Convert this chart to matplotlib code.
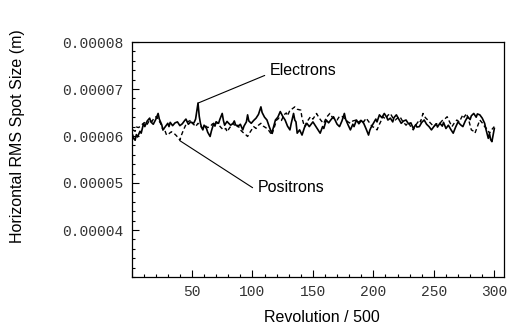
import numpy as np
import matplotlib
matplotlib.use("Agg")
import matplotlib.pyplot as plt

# values, spot size in micrometres
elec_x = [1, 2, 3, 4, 5, 7, 8, 10, 11, 13, 15, 16, 18, 20, 22, 23, 25, 26, 28, 30, 31, 32,
          34, 36, 38, 40, 42, 44, 45, 47, 49, 51, 52, 53, 55, 56, 57, 58, 59, 60, 62, 63,
          65, 66, 68, 69, 70, 72, 73, 75, 76, 77, 79, 80, 82, 84, 85, 86, 88, 90, 92, 93,
          95, 96, 97, 99, 101, 103, 105, 107, 108, 110, 112, 114, 116, 117, 119, 121, 123,
          125, 127, 129, 131, 132, 134, 135, 136, 137, 139, 141, 143, 145, 147, 150, 152,
          154, 156, 158, 159, 161, 163, 165, 167, 169, 170, 172, 174, 176, 177, 179, 181,
          183, 184, 186, 188, 190, 192, 194, 196, 197, 198, 200, 202, 203, 205, 207, 209,
          211, 212, 214, 216, 217, 219, 221, 223, 225, 227, 229, 231, 233, 235, 236, 238,
          240, 242, 244, 246, 248, 250, 252, 253, 255, 257, 258, 260, 262, 264, 266, 268,
          270, 272, 274, 276, 278, 280, 281, 283, 285, 286, 288, 290, 292, 293, 295, 296,
          297, 298, 299, 300]
elec_um = [60.2, 59.4, 59.1, 60.3, 59.8, 61.0, 60.6, 62.7, 62.0, 63.2, 63.8, 63.0, 62.5,
           63.5, 64.8, 63.6, 62.4, 61.3, 62.0, 62.7, 62.0, 62.9, 62.2, 62.8, 63.0, 62.2,
           62.6, 63.3, 63.6, 62.5, 63.0, 62.6, 63.0, 63.6, 67.0, 64.2, 62.7, 61.8, 61.3,
           62.3, 61.6, 60.8, 59.9, 61.0, 62.7, 62.1, 63.0, 62.7, 63.5, 64.8, 63.3, 62.3,
           63.1, 62.8, 62.3, 62.7, 63.2, 62.4, 62.0, 62.5, 61.3, 62.1, 63.0, 64.5, 63.2,
           62.7, 63.3, 63.8, 64.6, 66.2, 65.0, 64.0, 63.4, 61.9, 60.6, 61.5, 63.4, 64.0,
           65.2, 64.2, 63.4, 62.1, 61.3, 62.6, 64.8, 63.4, 63.0, 60.6, 61.3, 60.2, 61.8,
           62.7, 62.0, 63.0, 62.2, 61.4, 60.6, 62.0, 61.6, 63.4, 62.8, 63.5, 64.1, 63.0,
           62.5, 62.0, 63.2, 64.8, 63.6, 62.4, 61.3, 62.5, 62.0, 63.4, 62.6, 63.3, 62.7,
           61.5, 60.2, 61.2, 61.8, 62.7, 63.6, 63.0, 64.5, 63.9, 64.8, 64.0, 63.4, 63.8,
           63.0, 63.9, 64.5, 63.6, 62.7, 63.2, 63.4, 62.6, 62.8, 61.6, 62.4, 61.9, 62.0,
           62.9, 63.4, 62.5, 62.0, 61.3, 62.0, 62.6, 61.9, 62.7, 62.1, 62.9, 61.6, 62.3,
           61.4, 60.6, 61.9, 63.0, 62.4, 62.0, 63.2, 64.1, 63.5, 64.3, 64.8, 64.0, 64.7,
           64.5, 63.8, 62.7, 61.5, 59.5, 60.5, 59.2, 58.8, 60.2, 61.6]

posi_x = [1, 3, 4, 6, 8, 10, 12, 13, 15, 17, 19, 21, 22, 24, 26, 27, 29, 31, 33, 35, 37,
          39, 40, 41, 43, 45, 46, 48, 49, 51, 53, 55, 57, 59, 61, 63, 65, 67, 69, 70, 72,
          74, 76, 78, 79, 81, 84, 86, 88, 90, 92, 94, 96, 98, 101, 103, 105, 107, 109, 112,
          114, 116, 118, 120, 122, 124, 126, 128, 129, 131, 133, 135, 137, 140, 141, 143,
          145, 148, 150, 153, 155, 157, 159, 161, 164, 166, 168, 170, 172, 175, 177, 179,
          181, 183, 186, 188, 190, 192, 194, 196, 199, 201, 203, 205, 208, 210, 212, 214,
          216, 218, 220, 222, 224, 227, 229, 231, 233, 235, 238, 239, 241, 243, 245, 247,
          250, 252, 255, 257, 259, 261, 263, 265, 267, 269, 271, 274, 275, 277, 279, 281,
          283, 284, 286, 288, 290, 292, 294, 296, 298, 300]
posi_um = [61.3, 61.0, 61.9, 61.8, 62.3, 62.7, 63.0, 62.5, 63.4, 63.1, 64.0, 64.1, 63.5,
           62.7, 61.3, 61.6, 60.2, 60.5, 60.9, 60.6, 60.1, 59.5, 59.1, 60.0, 61.3, 62.4,
           63.0, 63.2, 63.4, 62.6, 62.0, 62.7, 62.1, 61.6, 62.2, 61.8, 62.0, 62.6, 62.3,
           63.0, 62.4, 61.8, 61.3, 61.6, 60.9, 61.7, 62.7, 62.0, 62.3, 61.3, 60.8, 60.4,
           59.9, 60.8, 62.0, 61.6, 62.3, 62.7, 62.1, 61.6, 61.0, 60.2, 61.8, 63.4, 63.8,
           63.3, 64.5, 64.9, 64.3, 65.5, 65.8, 66.2, 65.7, 65.5, 63.8, 62.0, 63.0, 64.1,
           63.6, 64.8, 63.9, 63.2, 62.7, 63.9, 64.8, 64.0, 63.6, 63.4, 64.2, 64.1, 63.5,
           63.0, 62.7, 63.2, 63.4, 62.9, 63.5, 63.0, 63.8, 63.1, 62.0, 61.8, 61.3, 62.5,
           64.1, 63.6, 64.4, 64.8, 63.9, 63.4, 63.8, 64.1, 63.2, 62.3, 62.9, 61.9, 61.3,
           62.3, 63.4, 63.0, 64.8, 63.9, 63.4, 62.8, 62.0, 62.6, 62.7, 63.3, 63.6, 64.1,
           63.0, 62.0, 62.8, 63.4, 63.0, 64.5, 64.0, 64.8, 63.2, 61.3, 61.0, 60.6, 62.0,
           63.4, 62.8, 62.0, 61.5, 60.6, 61.4, 62.0]

x_ticks = [0, 50, 100, 150, 200, 250, 300]
x_ticklabels = ["", "50", "100", "150", "200", "250", "300"]
y_ticks = [0.00004, 0.00005, 0.00006, 0.00007, 0.00008]
y_ticklabels = ["0.00004", "0.00005", "0.00006", "0.00007", "0.00008"]

elec = np.array(elec_um) * 1e-6
posi = np.array(posi_um) * 1e-6

fig = plt.figure(figsize=(5.09, 3.32), dpi=100)
ax = fig.add_axes([131.5 / 509, 1 - 277 / 332, (504 - 131.5) / 509, (277 - 42) / 332])

ax.plot(elec_x, elec, color="black", lw=1.2)
ax.plot(posi_x, posi, color="black", lw=1.0, dashes=(3, 2))

ax.set_xlim(0, 308)
ax.set_ylim(0.00003, 0.00008)

ax.set_xticks(x_ticks)
ax.set_xticklabels(x_ticklabels)
ax.set_xticks(np.arange(0, 310, 10), minor=True)
ax.set_yticks(y_ticks)
ax.set_yticklabels(y_ticklabels)
ax.set_yticks(np.arange(0.00003, 0.0000801, 0.000002), minor=True)

ax.tick_params(which="both", direction="in", top=False, right=False, width=0.8)
ax.tick_params(which="major", length=5, pad=6)
ax.tick_params(which="minor", length=2.5)
for lab in ax.get_xticklabels() + ax.get_yticklabels():
    lab.set_family("Liberation Mono")
    lab.set_fontsize(10.5)
    lab.set_color("#333333")
for sp in ax.spines.values():
    sp.set_linewidth(0.9)

ax.annotate("Electrons", xy=(55, 6.70e-5), xytext=(114, 7.40e-5),
            fontsize=11.5, family="Liberation Sans", va="center", ha="left",
            arrowprops=dict(arrowstyle="-", color="black", lw=0.8,
                            shrinkA=0, shrinkB=0, relpos=(-0.07, 0.15)))
ax.annotate("Positrons", xy=(40, 5.90e-5), xytext=(104, 4.90e-5),
            fontsize=11.5, family="Liberation Sans", va="center", ha="left",
            arrowprops=dict(arrowstyle="-", color="black", lw=0.8,
                            shrinkA=0, shrinkB=0, relpos=(-0.07, 0.5)))

fig.text(18 / 509, 1 - 136 / 332, "Horizontal RMS Spot Size (m)", rotation=90,
         ha="center", va="center", fontsize=11.5, family="Liberation Sans")
fig.text(322 / 509, 1 - 318 / 332, "Revolution / 500", ha="center", va="center",
         fontsize=11.5, family="Liberation Sans")

fig.savefig("out.png", dpi=100)
